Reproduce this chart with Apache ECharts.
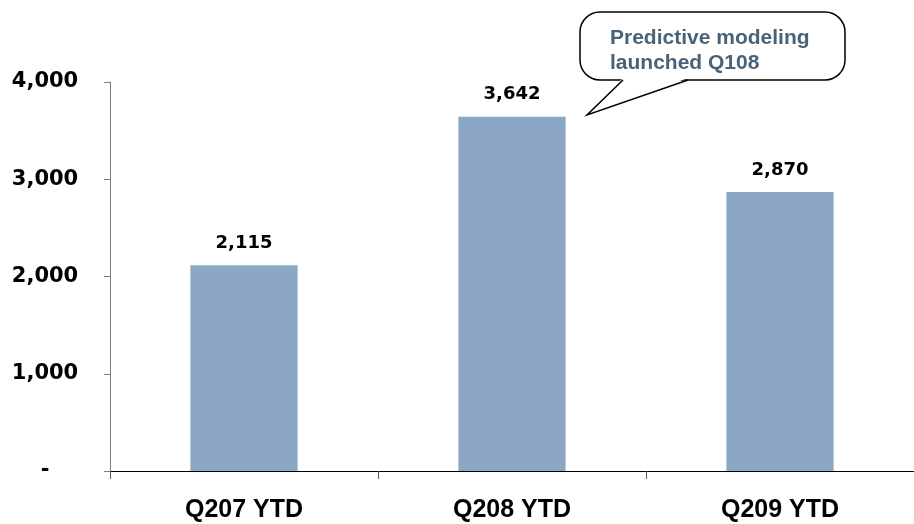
<!DOCTYPE html>
<html>
<head>
<meta charset="utf-8">
<script src="https://cdn.jsdelivr.net/npm/echarts@6/dist/echarts.min.js"></script>
<style>
  html, body { margin: 0; padding: 0; background: #fff; }
  #main { width: 914px; height: 524px; }
</style>
</head>
<body>
<div id="main"></div>
<script>
// data
var categories = ['Q207 YTD', 'Q208 YTD', 'Q209 YTD'];
var values = [2115, 3642, 2870];
var yTicks = [0, 1000, 2000, 3000, 4000];
var calloutLines = ['Predictive modeling', 'launched Q108'];

var myChart = echarts.init(document.getElementById('main'));

var option = {
  backgroundColor: '#ffffff',
  animation: false,
  grid: { left: 110, right: -3, top: 82, bottom: 53 },
  xAxis: {
    type: 'category',
    data: categories,
    axisLine: { lineStyle: { color: '#000', width: 1 } },
    axisTick: { show: true, length: 8, lineStyle: { color: '#555' } },
    axisLabel: {
      margin: 27,
      color: '#000',
      fontFamily: 'Liberation Sans',
      fontWeight: 'bold',
      fontSize: 25
    }
  },
  yAxis: {
    type: 'value',
    min: yTicks[0],
    max: yTicks[yTicks.length - 1],
    interval: 1000,
    splitLine: { show: false },
    axisLine: { show: true, lineStyle: { color: '#7f7f7f', width: 1 } },
    axisTick: { show: true, inside: false, length: 6, lineStyle: { color: '#7f7f7f' } },
    axisLabel: {
      margin: 65,
      align: 'center',
      color: '#000',
      fontFamily: 'DejaVu Sans',
      fontWeight: 'bold',
      fontSize: 21,
      formatter: function (v) {
        return v === 0 ? '-' : v.toLocaleString('en-US');
      }
    }
  },
  series: [{
    type: 'bar',
    data: values,
    barWidth: '40%',
    itemStyle: { color: '#8ca7c6' },
    label: {
      show: true,
      position: 'top',
      distance: 13,
      color: '#000',
      fontFamily: 'DejaVu Sans',
      fontWeight: 'bold',
      fontSize: 18,
      formatter: function (p) { return p.value.toLocaleString('en-US'); }
    }
  }],
  graphic: [
    {
      type: 'rect',
      shape: { x: 580, y: 12, width: 265, height: 68, r: 20 },
      style: { fill: '#fff', stroke: '#000', lineWidth: 1.5 }
    },
    {
      // cover the box edge where the tail joins
      type: 'polygon',
      shape: { points: [[623, 78], [688, 78], [587, 115]] },
      style: { fill: '#fff' }
    },
    {
      type: 'polyline',
      shape: { points: [[623, 80], [587, 115], [688, 80]] },
      style: { fill: null, stroke: '#000', lineWidth: 1.5 }
    },
    {
      type: 'text',
      x: 610,
      y: 26,
      style: {
        text: calloutLines.join('\n'),
        fill: '#48627a',
        font: 'bold 21px "Liberation Sans"',
        lineHeight: 25
      }
    }
  ]
};

myChart.setOption(option);
</script>
</body>
</html>
